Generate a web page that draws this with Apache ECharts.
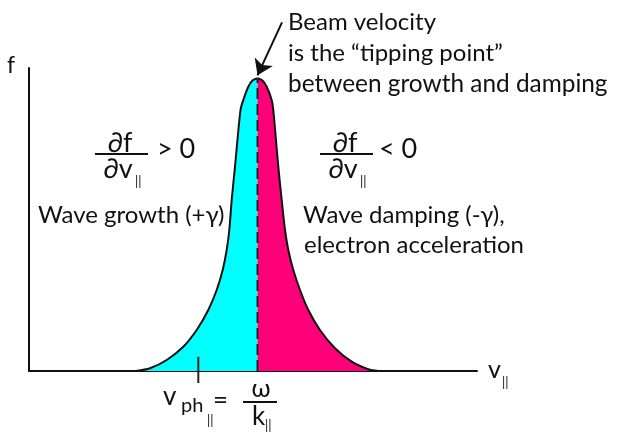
<!DOCTYPE html>
<html>
<head>
<meta charset="utf-8">
<script src="https://cdn.jsdelivr.net/npm/echarts@6/dist/echarts.min.js"></script>
<style>html,body{margin:0;padding:0;background:#fff}#c{width:618px;height:432px}</style>
</head>
<body>
<div id="c"></div>
<script>
// Distribution function f(v||), arbitrary units
const leftBranch = [[107,0],[121,2.7],[137.7,11],[154.3,24.3],[167.7,41],[179.3,61],[187.7,81],[193.7,101],[197.7,121],[200.3,141],[202.7,171],[206,204.3],[211.5,261],[214.3,271],[219.3,284.3],[223.5,290.5],[228.5,292.7]];
const rightBranch = [[228.5,292.7],[233.5,290.5],[237.7,284.3],[242.7,271],[244.3,261],[249.3,204.3],[252.7,171],[256,141],[259.3,121],[264.3,101],[271,81],[279.3,61],[291,41],[306,22.7],[322.7,9.3],[339.3,1.7],[349.3,0]];
const beamV = 228.5;      // beam velocity (peak)
const peakF = 292.7;
const vPh = 169.3;        // phase velocity tick
const xRange = [0, 448];
const yRange = [0, 303];

const FONT = 'Lato';
const INK = '#111';
function T(text, x, baseline, size, align) {
  return {type:'text', x:x, y:baseline - 0.32*size, z:100, silent:true,
    style:{text:text, fontFamily:FONT, fontSize:size, fill:INK, align:align||'left', verticalAlign:'middle'}};
}
function L(x1,y1,x2,y2){
  return {type:'line', z:100, silent:true, shape:{x1:x1,y1:y1,x2:x2,y2:y2}, style:{stroke:INK, lineWidth:2}};
}

const chart = echarts.init(document.getElementById('c'), null, {renderer:'canvas'});
chart.setOption({
  animation:false,
  backgroundColor:'#fff',
  grid:{left:29, top:68, right:141, bottom:61},
  xAxis:{type:'value', min:xRange[0], max:xRange[1], axisLine:{show:true, lineStyle:{color:INK, width:2}},
    axisTick:{show:false}, axisLabel:{show:false}, splitLine:{show:false}},
  yAxis:{type:'value', min:yRange[0], max:yRange[1], axisLine:{show:true, lineStyle:{color:INK, width:2}},
    axisTick:{show:false}, axisLabel:{show:false}, splitLine:{show:false}},
  series:[
    {type:'line', data:leftBranch, smooth:0.3, showSymbol:false, symbol:'none',
      lineStyle:{color:INK, width:2}, areaStyle:{color:'#00FFFF', opacity:1}, z:2},
    {type:'line', data:rightBranch, smooth:0.3, showSymbol:false, symbol:'none',
      lineStyle:{color:INK, width:2}, areaStyle:{color:'#FF0078', opacity:1}, z:2},
    {type:'line', data:[[beamV,0],[beamV,peakF]], symbol:'none', clip:false,
      lineStyle:{color:'#222', width:2, type:[11,5]}, z:3},
    {type:'lines', coordinateSystem:'cartesian2d', clip:false, silent:true, z:4,
      symbol:['none','arrow'], symbolSize:[13,15],
      lineStyle:{color:INK, width:2, opacity:1},
      data:[{coords:[[beamV+24.5, peakF+56],[beamV, peakF+3]]}]},
    {type:'line', data:[[vPh,14.3],[vPh,-12]], symbol:'none', clip:false,
      lineStyle:{color:'#222', width:2}, z:3}
  ],
  graphic:[
    T('f', 7, 73, 23),
    T('v', 488, 378, 25), T('||', 502, 387, 13),
    T('Beam velocity', 288, 30, 24),
    T('is the \u201ctipping point\u201d', 288, 61, 24),
    T('between growth and damping', 288, 92, 24.4),
    T('Wave growth (+\u03b3)', 38, 223, 24),
    T('Wave damping (-\u03b3),', 303, 223, 24),
    T('electron acceleration', 304, 253, 24),
    // left fraction
    T('\u2202f', 120, 152, 27, 'center'), L(95,154,148,154),
    T('\u2202v', 118, 178, 27, 'center'), T('||', 135, 186, 13),
    T('> 0', 157, 158, 27),
    // right fraction
    T('\u2202f', 345, 152, 27, 'center'), L(320,154,373,154),
    T('\u2202v', 343, 178, 27, 'center'), T('||', 360, 186, 13),
    T('< 0', 379, 158, 27),
    // phase velocity
    T('v', 163, 405, 26), T('ph', 181, 412, 20), T('||', 207, 425, 13),
    T('=', 213, 409, 26),
    T('\u03c9', 261, 397, 25, 'center'), L(243,402,277,402),
    T('k', 252, 425, 26), T('||', 265, 430, 13)
  ]
});
</script>
</body>
</html>
